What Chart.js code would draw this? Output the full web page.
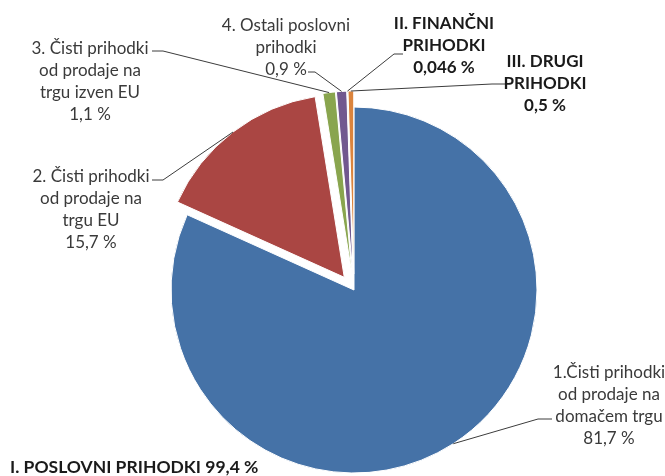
<!DOCTYPE html>
<html>
<head>
<meta charset="utf-8">
<script src="https://cdn.jsdelivr.net/npm/chart.js@4/dist/chart.umd.min.js"></script>
<style>
html,body{margin:0;padding:0;background:#fff;}
canvas{display:block;}
</style>
</head>
<body>
<canvas id="c" width="665" height="476"></canvas>
<script>
// ---- data ----
const categories = [
  '1.Čisti prihodki od prodaje na domačem trgu',
  '2. Čisti prihodki od prodaje na trgu EU',
  '3. Čisti prihodki od prodaje na trgu izven EU',
  '4. Ostali poslovni prihodki',
  'II. FINANČNI PRIHODKI',
  'III. DRUGI PRIHODKI'
];
const labelLines = [
  ['1.Čisti prihodki', 'od prodaje na', 'domačem trgu'],
  ['2. Čisti prihodki', 'od prodaje na', 'trgu EU'],
  ['3. Čisti prihodki', 'od prodaje na', 'trgu izven EU'],
  ['4. Ostali poslovni', 'prihodki'],
  ['II. FINANČNI', 'PRIHODKI'],
  ['III. DRUGI', 'PRIHODKI']
];
const values = [81.7, 15.7, 1.1, 0.9, 0.046, 0.5];
const groupLabel = 'I. POSLOVNI PRIHODKI';
const groupValue = 99.4;

// ---- styles ----
const colors = ['#4572A7', '#AA4643', '#89A54E', '#71588F', '#4198AF', '#DB843D'];
const explode = [0, 16, 16, 16, 16, 16];
const boldLabel = [false, false, false, false, true, true];
// label layout: center x, first line center y, leader start [x1,y1,x2,y2]
const labelLayout = [
  {x: 609, y: 373, lead: [552, 419, 538, 419]},
  {x: 91,  y: 177, lead: [152, 180, 163, 180]},
  {x: 90,  y: 49,  lead: [152, 51, 163, 51]},
  {x: 286, y: 26,  lead: [308, 72, 315, 72]},
  {x: 444, y: 24,  lead: [403, 54, 394, 54]},
  {x: 545, y: 62,  lead: [505, 84, 492, 84]}
];
const lineGap = 21.8;
const fmt = v => String(v).replace('.', ',') + ' %';

const explodePlugin = {
  id: 'explode',
  beforeDatasetsDraw(chart) {
    const arcs = chart.getDatasetMeta(0).data;
    arcs.forEach((el, i) => {
      if (el._exWrapped) return;
      const orig = el.draw;
      el.draw = function (ctx, area) {
        const h = (this.startAngle + this.endAngle) / 2;
        ctx.save();
        ctx.translate(Math.cos(h) * explode[i], Math.sin(h) * explode[i]);
        orig.call(this, ctx, area);
        ctx.restore();
      };
      el._exWrapped = true;
    });
  }
};

const labelPlugin = {
  id: 'labels',
  afterDatasetsDraw(chart) {
    const ctx = chart.ctx;
    const arcs = chart.getDatasetMeta(0).data;
    ctx.save();
    arcs.forEach((el, i) => {
      const lay = labelLayout[i];
      const h = (el.startAngle + el.endAngle) / 2;
      const r = el.outerRadius + explode[i];
      const px = el.x + Math.cos(h) * r;
      const py = el.y + Math.sin(h) * r;
      ctx.strokeStyle = '#3c3c3c';
      ctx.lineWidth = 1;
      ctx.beginPath();
      ctx.moveTo(lay.lead[0], lay.lead[1]);
      ctx.lineTo(lay.lead[2], lay.lead[3]);
      ctx.lineTo(px, py);
      ctx.stroke();

      const lines = labelLines[i].concat([fmt(values[i])]);
      ctx.font = (boldLabel[i] ? 'bold ' : '') + '17px Lato';
      ctx.fillStyle = boldLabel[i] ? '#1a1a1a' : '#3a3a3a';
      ctx.textAlign = 'center';
      ctx.textBaseline = 'middle';
      lines.forEach((t, k) => ctx.fillText(t, lay.x, lay.y + k * lineGap));
    });
    ctx.font = 'bold 17.5px Lato';
    ctx.fillStyle = '#1a1a1a';
    ctx.textAlign = 'left';
    ctx.textBaseline = 'middle';
    ctx.fillText(groupLabel + ' ' + fmt(groupValue), 10, 467);
    ctx.restore();
  }
};

new Chart(document.getElementById('c'), {
  type: 'pie',
  data: {
    labels: categories,
    datasets: [{
      data: values,
      backgroundColor: colors,
      borderColor: '#ffffff',
      borderWidth: 1,
      clip: false
    }]
  },
  options: {
    responsive: false,
    animation: false,
    radius: 183,
    layout: {padding: {left: 43, right: 0, top: 104, bottom: 0}},
    plugins: {legend: {display: false}, tooltip: {enabled: false}}
  },
  plugins: [explodePlugin, labelPlugin]
});
</script>
</body>
</html>
